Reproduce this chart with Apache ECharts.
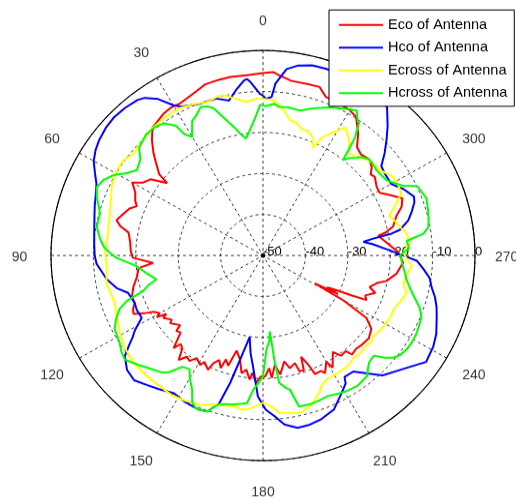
<!DOCTYPE html>
<html>
<head>
<meta charset="utf-8">
<script src="https://cdn.jsdelivr.net/npm/echarts@6.0.0/dist/echarts.min.js"></script>
<style>
html, body { margin: 0; padding: 0; background: #fff; overflow: hidden; width: 516px; height: 504px; }
/* the source figure is squashed a little vertically, so the drawing is too */
#main { width: 516px; height: 521px; transform: scaleY(0.9674); transform-origin: 0 0; }
</style>
</head>
<body>
<div id="main"></div>
<script>
// legend names and line colours
var seriesNames = ['Eco of Antenna', 'Hco of Antenna', 'Ecross of Antenna', 'Hcross of Antenna'];
var seriesColors = ['#ff0000', '#0000ff', '#ffff00', '#00ff00'];

// axis ticks
var angleTicks = [0, 30, 60, 90, 120, 150, 180, 210, 240, 270, 300, 330];
var radiusTicks = [-50, -40, -30, -20, -10, 0];

// [angle in degrees, gain in dB]
var eco = [[0,-5.5],[5,-5.9],[10,-5.8],[14,-5.9],[18,-6.1],[23,-7.3],[28,-8.1],[31,-7.9],[34,-8.2],[40,-9.4],[43,-11.6],[46,-14.1],[48,-16],[51,-18.5],[52,-21.3],[55,-17.6],[58,-16.5],[60,-14.4],[63,-16.2],[66,-17],[68,-17.9],[70,-16.5],[73,-15.5],[76,-14.4],[78,-15.6],[80,-17.8],[84,-18.5],[88,-18.8],[91,-19.3],[94,-24],[96,-20.5],[100,-19.8],[104,-18.5],[108,-17.5],[111,-17.6],[113,-16.7],[115,-16.3],[117,-19.2],[118,-20.8],[120,-21.9],[121,-20.8],[122,-23.1],[123,-22],[126,-23.4],[127,-22.6],[131,-24.1],[132,-22.5],[134,-23],[137,-19.1],[138,-21],[140,-20.4],[142,-17.7],[144,-19.5],[146,-19],[148,-20.5],[151,-19.5],[152,-20.6],[155,-19.3],[156,-21.3],[158,-22.5],[160,-20.8],[161,-23.2],[163,-21.9],[165,-26],[168,-24],[170,-20.9],[172,-21.9],[174,-19.6],[175,-21.3],[177,-18.9],[179,-20.5],[181,-20.5],[183,-22.5],[184,-20.1],[186,-23.2],[188,-20.7],[191,-23.7],[193,-21.8],[196,-22.7],[197,-20.5],[199,-20.4],[200,-23.7],[202,-21.1],[203,-18.6],[206,-18.7],[207,-17.8],[210,-20.1],[211,-18.1],[215,-21.3],[217,-19.4],[220,-19.6],[221,-18],[224,-18.4],[227,-18.1],[231,-17.9],[235,-18.8],[238,-21.2],[240,-28],[241,-36],[242,-30],[243,-33],[244,-30.7],[245,-27],[246,-23.3],[248,-24],[251,-22],[253,-23.7],[256,-22.3],[258,-20.2],[262,-18.2],[267,-16.9],[270,-17.7],[272,-18.4],[276,-20.6],[279,-22],[280,-22.4],[281,-20.5],[283,-18.5],[287,-17.1],[290,-15.2],[293,-14.3],[296,-16.5],[299,-18.5],[302,-18.4],[306,-17.4],[308,-17.8],[310,-16.5],[313,-15.7],[317,-16.2],[320,-15.5],[323,-12.7],[327,-9.7],[330,-9.1],[334,-8.8],[339,-8.6],[342,-6.8],[346,-6.9],[351,-6.9],[355,-5.9],[357,-5.2]];

var hco = [[0,-11],[1,-10.6],[4,-7.6],[5,-6.8],[6,-7.1],[9,-9.2],[12,-11.4],[16,-10.2],[22,-10.1],[28,-8.9],[30,-7.7],[33,-4.5],[36,-2.5],[38,-1.9],[42,-1.5],[46,-1.3],[50,-1.6],[54,-2.2],[57,-2.9],[60,-3.9],[63,-5.5],[66,-7.0],[70,-8.0],[73,-8.5],[77,-9.2],[82,-9.8],[86,-10.1],[90,-10.3],[93,-10.7],[96,-11.8],[99,-12.7],[103,-14.6],[106,-16.9],[111,-17.6],[114,-17.4],[118,-17.6],[121,-14.8],[123,-13.3],[125,-11.3],[127,-9.2],[131,-7.5],[135,-7.0],[139,-8.2],[143,-9.2],[148,-10.4],[153,-9.8],[158,-9.5],[161,-9.8],[164,-12.5],[166,-18],[168,-24],[171,-29.9],[173,-26],[175,-22.9],[178,-15.6],[181,-12.4],[184,-10.7],[187,-8.5],[191,-7.2],[195,-7.3],[199,-7.8],[204,-8.9],[208,-11.2],[212,-13.2],[213,-14.7],[217,-14.6],[221,-11.8],[224,-9.4],[229,-7.4],[233,-5.4],[236,-3.6],[241,-4.1],[245,-4.9],[250,-6.4],[253,-7.2],[256,-8.2],[259,-9.5],[262,-10.3],[265,-12],[268,-13.7],[270,-16.9],[273,-20.8],[276,-23.9],[278,-26.1],[279,-23.7],[280,-19.2],[281,-17.1],[284,-14.7],[287,-13.3],[290,-12],[292,-11.6],[296,-13.1],[300,-15.1],[305,-15],[308,-14.6],[311,-12],[314,-9.5],[317,-6.9],[321,-3.5],[326,-2.6],[331,-2.3],[336,-2.1],[342,-2.1],[346,-2.2],[350,-3],[353,-4.2],[356,-8],[357,-11.3],[359,-11.8]];

var ecross = [[0,-11.8],[2,-11.7],[6,-12.4],[10,-11.1],[13,-9.9],[15,-9.7],[19,-10.3],[23,-9.8],[26,-9.4],[29,-9.0],[32,-9.1],[36,-9.3],[40,-9.4],[45,-10.2],[48,-10.4],[51,-10.6],[55,-9.7],[59,-9.7],[62,-10.2],[65,-10.6],[69,-11.6],[74,-12.5],[78,-12.8],[82,-13.1],[86,-12.9],[89,-12.7],[93,-13.1],[97,-12.8],[100,-12.5],[104,-12.9],[108,-13.2],[112,-12.6],[116,-12.1],[119,-11.4],[123,-10.7],[126,-10.3],[129,-10],[132,-10],[135,-9.8],[139,-9.9],[143,-9.9],[148,-9.7],[153,-10.2],[158,-10.7],[160,-11.3],[163,-12],[166,-12.3],[169,-12.6],[173,-12.1],[176,-12.8],[180,-14.1],[183,-13.2],[186,-11.4],[189,-11.1],[193,-10.7],[197,-11.6],[200,-13.2],[202,-14.2],[204,-15.6],[207,-16.4],[210,-16.3],[213,-16.4],[216,-16.4],[218,-16.7],[221,-17.2],[223,-16.9],[227,-17.2],[231,-16.9],[233,-17.3],[236,-17],[240,-16.6],[244,-16.4],[247,-16.5],[250,-15.9],[253,-15.3],[255,-14.9],[258,-16.2],[262,-15.8],[266,-14.8],[268,-15.8],[271,-16.9],[273,-16.2],[275,-15.2],[279,-15.7],[282,-16.9],[285,-17.7],[288,-18.6],[290,-17.5],[292,-16],[295,-14],[298,-13.8],[302,-13.8],[305,-14.8],[307,-15.5],[311,-15.7],[314,-16.2],[316,-16.8],[318,-17.5],[321,-17.8],[324,-15.4],[328,-13.2],[331,-15.6],[334,-17.8],[336,-21.2],[338,-18.8],[341,-17.8],[343,-18],[346,-16.8],[349,-16.4],[352,-14.3],[354,-13.2],[356,-12.1],[358,-12]];

var hcross = [[0,-13.4],[1,-13.2],[3,-16.2],[6,-19.5],[8,-21.2],[10,-20],[12,-18.2],[14,-16.5],[16,-14.5],[18,-12.2],[20,-11.3],[22,-10.9],[25,-12.5],[27,-13.2],[29,-15.5],[30,-16.6],[32,-15.2],[33,-12.3],[36,-10.2],[39,-9.6],[43,-9.6],[46,-10.3],[48,-10.7],[51,-12.8],[55,-13.7],[58,-12.1],[61,-9.6],[64,-8.1],[67,-7.4],[70,-8.3],[73,-9.5],[75,-10.2],[80,-10.2],[84,-11.4],[87,-12.5],[89,-13.9],[91,-15.5],[95,-20.1],[99,-22.2],[103,-24.2],[105,-22],[107,-20.5],[109,-16.1],[111,-13.8],[114,-12.1],[117,-10.7],[122,-10.1],[125,-9.2],[128,-8.7],[130,-9.5],[133,-10.6],[137,-12],[140,-12.8],[142,-13.9],[145,-16.9],[148,-17.3],[150,-15.5],[153,-13.2],[155,-10.5],[157,-9.5],[161,-9.8],[164,-12.3],[167,-12.8],[169,-13],[172,-13.5],[174,-13.8],[176,-17.2],[178,-18.9],[180,-20.5],[182,-27],[184,-29],[185,-31.4],[186,-24.5],[187,-18.7],[190,-17],[191,-16.7],[193,-12.2],[196,-12.1],[198,-12.1],[201,-12.3],[204,-12.5],[208,-11.9],[211,-11.5],[215,-11.2],[220,-11.7],[222,-13],[224,-13.9],[227,-14.2],[229,-12],[231,-10.4],[233,-9.6],[236,-9.1],[239,-9.0],[242,-9.1],[245,-9.4],[248,-9.7],[251,-10.9],[253,-12.2],[255,-13.4],[258,-14.8],[260,-15.6],[263,-16.3],[265,-16.8],[268,-17.3],[270,-17.7],[273,-15.5],[276,-15.9],[278,-11.8],[280,-10.4],[283,-9.9],[286,-9.5],[290,-9.0],[293,-9.6],[295,-9.9],[297,-12.7],[300,-14.5],[302,-15.5],[305,-15.9],[308,-16.1],[311,-15.8],[313,-15.7],[316,-16.6],[317,-17.4],[319,-18.5],[321,-20],[322,-17.1],[323,-13.9],[325,-10.5],[326,-10.1],[328,-8.3],[331,-9.2],[335,-10.2],[337,-10.8],[342,-12.3],[346,-13.6],[351,-13.4],[354,-13.6],[356,-12.9],[359,-13.6]];

var allData = [eco, hco, ecross, hcross];

// angle labels sit at about 1.15 x the outer radius, as in the source plot
var angleLabelDb = 7.45;

var fontFam = '"Liberation Sans", Arial, sans-serif';
var gridStyle = { color: '#222', type: [3, 3], width: 0.9 };
var polarCenter = [263, 264.1];
var polarRadius = 212;

// echarts polar data is [radius, angle]; close each loop at 360
function toPolar(arr) {
    var d = arr.map(function (p) { return [p[1], p[0]]; });
    d.push([arr[0][1], 360]);
    return d;
}

var series = seriesNames.map(function (name, i) {
    return {
        name: name,
        type: 'line',
        coordinateSystem: 'polar',
        polarIndex: 0,
        symbol: 'none',
        smooth: false,
        lineStyle: { color: seriesColors[i], width: 2 },
        itemStyle: { color: seriesColors[i] },
        data: toPolar(allData[i])
    };
});
// small black dot at the centre
series.push({
    type: 'scatter',
    coordinateSystem: 'polar',
    polarIndex: 0,
    symbolSize: 5,
    itemStyle: { color: '#000' },
    silent: true,
    z: 5,
    data: [[radiusTicks[0], 0]]
});
// angle labels, centred on their spot outside the ring
series.push({
    type: 'scatter',
    coordinateSystem: 'polar',
    polarIndex: 0,
    clip: false,
    symbol: 'circle',
    symbolSize: 1,
    silent: true,
    itemStyle: { color: 'rgba(0,0,0,0)' },
    label: {
        show: true,
        position: 'inside',
        offset: [0, 1.75],
        color: '#000',
        fontSize: 14,
        fontFamily: fontFam,
        formatter: function (p) { return String(p.value[1]); }
    },
    data: angleTicks.map(function (a) { return [angleLabelDb, a]; })
});

var myChart = echarts.init(document.getElementById('main'));
myChart.setOption({
    animation: false,
    backgroundColor: '#fff',
    polar: [
        { center: polarCenter, radius: polarRadius },
        { center: polarCenter, radius: polarRadius }
    ],
    angleAxis: [
        {
            polarIndex: 0,
            type: 'value',
            min: 0,
            max: 360,
            interval: 30,
            startAngle: 90,
            clockwise: false,
            axisLine: { lineStyle: { color: '#000', width: 1.2 } },
            axisTick: { show: false },
            axisLabel: { show: false },
            splitLine: { show: true, lineStyle: gridStyle }
        },
        {
            polarIndex: 1,
            type: 'value',
            min: 0,
            max: 360,
            startAngle: 0,
            show: false
        }
    ],
    radiusAxis: [
        {
            polarIndex: 0,
            type: 'value',
            min: radiusTicks[0],
            max: radiusTicks[radiusTicks.length - 1],
            interval: 10,
            axisLine: { show: false },
            axisTick: { show: false },
            axisLabel: { show: false },
            splitLine: { show: true, lineStyle: gridStyle }
        },
        {
            polarIndex: 1,
            type: 'value',
            min: radiusTicks[0],
            max: radiusTicks[radiusTicks.length - 1],
            interval: 10,
            axisLine: { show: false },
            axisTick: { show: false },
            splitLine: { show: false },
            axisLabel: {
                align: 'left',
                verticalAlign: 'middle',
                margin: 4,
                color: '#000',
                fontSize: 13,
                fontFamily: fontFam
            }
        }
    ],
    legend: {
        data: seriesNames,
        orient: 'vertical',
        left: 329,
        top: 10.3,
        z: 10,
        icon: 'rect',
        backgroundColor: '#fff',
        borderColor: '#000',
        borderWidth: 1,
        borderRadius: 0,
        padding: [8, 7, 6, 10],
        itemWidth: 44,
        itemHeight: 2,
        itemGap: 8.5,
        textStyle: { color: '#000', fontSize: 14.5, fontFamily: fontFam }
    },
    series: series
});
</script>
</body>
</html>
